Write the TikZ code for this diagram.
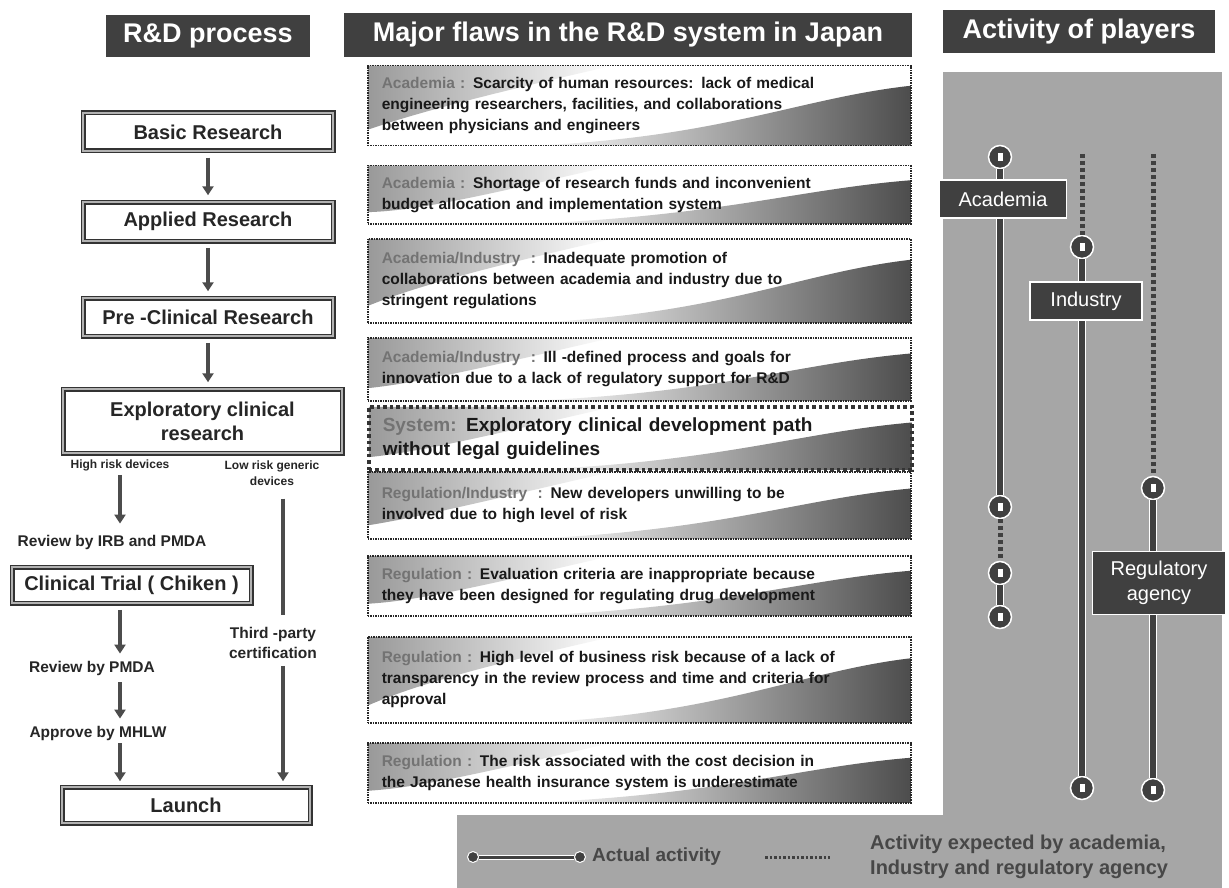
\documentclass[tikz,border=0pt]{standalone}
\usepackage{fontspec}
\setmainfont{Liberation Sans}
\usetikzlibrary{positioning,calc,arrows.meta}
\newcommand{\flawwho}[1]{\textcolor{black!55}{#1}}
\begin{document}
\begin{tikzpicture}[
  x=1pt, y=-1pt,
  header/.style={rectangle, fill=black!75, text=white, inner sep=0pt, font=\bfseries\fontsize{27}{30}\selectfont},
  stage/.style={rectangle, draw=black!80, line width=1.5pt, double=black!30, double distance=2pt, fill=white, align=center, inner sep=0pt, text=black!85, font=\bfseries\fontsize{20}{24}\selectfont},
  note/.style={align=center, inner sep=1pt, text=black!85, font=\bfseries\fontsize{15.5}{20}\selectfont},
  risk/.style={align=center, inner sep=1pt, text=black!85, font=\bfseries\fontsize{12}{16}\selectfont},
  flow/.style={-{Triangle[width=11pt,length=9pt]}, line width=3.5pt, draw=black!70, shorten <=6pt, shorten >=6pt},
  bar/.style={line width=4pt, draw=black!70},
  flaw/.style={rectangle, draw=black!85, densely dotted, line width=1.5pt, anchor=north west, minimum width=543pt, text width=515pt, inner xsep=14pt, align=left, text=black!90, font=\bfseries\fontsize{15.5}{21}\selectfont,
    path picture={
      \path (path picture bounding box.south west) coordinate (sw) (path picture bounding box.north east) coordinate (ne)
            (path picture bounding box.north west) coordinate (nw) (path picture bounding box.south east) coordinate (se);
      \shade[left color=black!40, right color=white] (nw) -- ($(nw)!0.45!(ne)$) .. controls ($(nw)!0.25!(ne)+(0,25)$) and ($(nw)!0.1!(ne)+(0,45)$) .. ($(nw)!0.8!(sw)$) -- cycle;
      \shade[left color=white, right color=black!70] ($(sw)!0.3!(se)$) .. controls ($(sw)!0.65!(se)+(0,-8)$) and ($(se)!0.6!(ne)+(-110,0)$) .. ($(se)!0.75!(ne)$) -- (se) -- cycle;
    }},
  system/.style={flaw, draw=black!80, line width=3.5pt, dash pattern=on 3.5pt off 3pt, font=\bfseries\fontsize{19}{24}\selectfont},
  panel/.style={fill=black!35},
  player/.style={rectangle, fill=black!75, draw=white, line width=1.5pt, text=white, align=center, inner sep=0pt, font=\fontsize{20}{25}\selectfont},
  actual/.style={draw=white, line width=1pt, double=black!75, double distance=6pt},
  expected/.style={draw=black!75, line width=5pt, dash pattern=on 4pt off 3pt},
  stop/.style={circle, fill=black!75, draw=white, line width=1.5pt, minimum size=23pt, inner sep=0pt,
    path picture={\fill[white] ($(path picture bounding box.center)+(-2.5,-4)$) rectangle +(5,8);}},
  dot/.style={circle, fill=black!75, draw=white, line width=1pt, minimum size=11pt, inner sep=0pt},
  legend text/.style={align=left, inner sep=0pt, text=black!72, font=\bfseries\fontsize{20}{25}\selectfont}
]
\fill[white] (0,0) rectangle (1229,888);
\useasboundingbox (0,0) rectangle (1229,888);

\node[header, minimum width=204pt, minimum height=42pt] (rdhead) at (208,36) {R\&D process};
\node[header, minimum width=568pt, minimum height=44pt] (flawhead) at (628,35) {Major flaws in the R\&D system in Japan};
\node[header, minimum width=272pt, minimum height=43pt] (playhead) at (1079,32) {Activity of players};

\node[stage, minimum width=250pt, minimum height=38pt] (basic) at (208,132) {Basic Research};
\node[stage, minimum width=250pt, minimum height=39pt, below of=basic, node distance=89.5pt] (applied) {Applied Research};
\node[stage, minimum width=250pt, minimum height=38pt, below of=applied, node distance=95.5pt] (preclin) {Pre -Clinical Research};
\node[stage, minimum width=279pt, minimum height=64pt] (explor) at (202.5,421) {Exploratory clinical\\research};
\node[risk] (hrisk) at (120,465) {High risk devices};
\node[risk] (lrisk) at (272,473) {Low risk generic\\devices};
\node[note] (irb) at (112,542) {Review by IRB and PMDA};
\node[stage, minimum width=239pt, minimum height=36pt] (clinical) at (131.5,585) {Clinical Trial ( Chiken )};
\node[note] (revpmda) at (92,668) {Review by PMDA};
\node[note] (mhlw) at (98,733) {Approve by MHLW};
\node[note] (tpc) at (273,643) {Third -party\\certification};
\node[stage, minimum width=248pt, minimum height=36pt] (launch) at (186,805) {Launch};

\draw[flow] (basic) -- (applied);
\draw[flow] (applied) -- (preclin);
\draw[flow] (preclin.south -| applied) -- (preclin.south |- explor.north);
\draw[flow, shorten <=3pt, shorten >=10pt] (hrisk.south) -- (hrisk.south |- irb.north);
\draw[flow] (clinical.south -| hrisk) -- (revpmda.north -| hrisk);
\draw[flow] (revpmda.south -| hrisk) -- (mhlw.north -| hrisk);
\draw[flow, shorten <=2pt, shorten >=5pt] (mhlw.south -| hrisk) -- (launch.north -| hrisk);
\draw[bar] ([xshift=11pt, yshift=-12pt]lrisk.south) -- ([xshift=10pt, yshift=11pt]tpc.north);
\draw[flow, shorten >=5pt] ([xshift=10pt]tpc.south) -- ([xshift=10pt]tpc.south |- launch.north);

\node[flaw, minimum height=80pt] (flaw1) at (367,65) {\flawwho{Academia :} Scarcity of human resources: lack of medical\\engineering researchers, facilities, and collaborations\\between physicians and engineers};
\node[flaw, minimum height=58pt] (flaw2) at (367,165) {\flawwho{Academia :} Shortage of research funds and inconvenient\\budget allocation and implementation system};
\node[flaw, minimum height=84pt] (flaw3) at (367,238) {\flawwho{Academia/Industry\ \ :} Inadequate promotion of\\collaborations between academia and industry due to\\stringent regulations};
\node[flaw, minimum height=63pt] (flaw4) at (367,337) {\flawwho{Academia/Industry\ \ :} Ill -defined process and goals for\\innovation due to a lack of regulatory support for R\&D};
\node[system, minimum height=63pt] (flaw5) at (367,405) {\flawwho{System:} Exploratory clinical development path\\without legal guidelines};
\node[flaw, minimum height=67pt] (flaw6) at (367,471) {\flawwho{Regulation/Industry\ \ :} New developers unwilling to be\\involved due to high level of risk};
\node[flaw, minimum height=60pt] (flaw7) at (367,555) {\flawwho{Regulation :} Evaluation criteria are inappropriate because\\they have been designed for regulating drug development};
\node[flaw, minimum height=86pt] (flaw8) at (367,636) {\flawwho{Regulation :} High level of business risk because of a lack of\\transparency in the review process and time and criteria for\\approval};
\node[flaw, minimum height=60pt] (flaw9) at (367,742) {\flawwho{Regulation :} The risk associated with the cost decision in\\the Japanese health insurance system is underestimate};

\fill[panel] (943,72) rectangle (1222,888);
\fill[panel] (457,815) rectangle (1222,888);

\node[stop] (acad1) at (1000,157) {};
\node[stop] (acad2) at (1000,507) {};
\node[stop] (acad3) at (1000,573) {};
\node[stop] (acad4) at (1000,617) {};
\node[stop] (ind1) at (1082,247) {};
\node[stop] (ind2) at (1082,788) {};
\node[stop] (reg1) at (1153,488) {};
\node[stop] (reg2) at (1153,790) {};
\coordinate (indtop) at (1082,154);
\coordinate (regtop) at (1153,154);

\draw[actual] (acad1) -- (acad2);
\draw[expected] (acad2) -- (acad3);
\draw[actual] (acad3) -- (acad4);
\draw[expected] (indtop) -- (ind1);
\draw[actual] (ind1) -- (ind2);
\draw[expected] (regtop) -- (reg1);
\draw[actual] (reg1) -- (reg2);

\node[player, minimum width=127pt, minimum height=38pt] (acadbox) at (1003,199) {Academia};
\node[player, minimum width=112pt, minimum height=38pt] (indbox) at (1086,301) {Industry};
\node[player, minimum width=133pt, minimum height=63pt] (regbox) at (1159,583) {Regulatory\\agency};

\node[dot] (legstart) at (473,857) {};
\node[dot] (legstop) at (580,857) {};
\draw[actual, double distance=3pt] (legstart) -- (legstop);
\node[legend text, right=6pt of legstop, font=\bfseries\fontsize{19}{24}\selectfont] (legactual) {Actual activity};
\coordinate (legdotstart) at (765,857);
\coordinate (legdotstop) at (830,857);
\draw[expected, line width=3pt, dash pattern=on 2.5pt off 2pt] (legdotstart) -- (legdotstop);
\node[legend text, anchor=west] (legexpected) at (870,857) {Activity expected by academia,\\Industry and regulatory agency};
\end{tikzpicture}
\end{document}
